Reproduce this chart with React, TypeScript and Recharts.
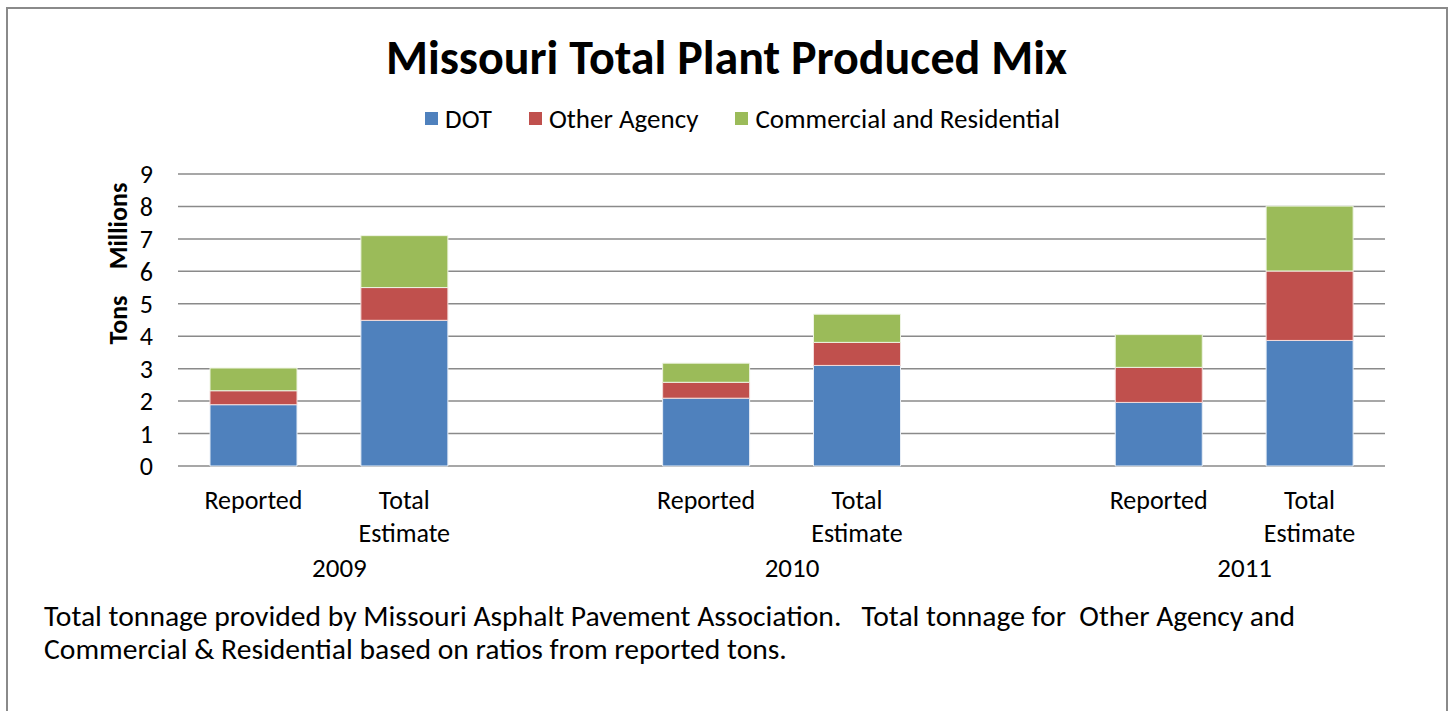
import { BarChart, Bar, XAxis, YAxis, CartesianGrid } from 'recharts';

const FONT = 'Carlito, Calibri, Lato, sans-serif';

// slots: two bars per year, empty slot between groups
const categories = ['Reported', 'Total Estimate', '', 'Reported', 'Total Estimate', '', 'Reported', 'Total Estimate'];
const years = ['2009', '', '', '2010', '', '', '2011', ''];
const dot = [1.89, 4.49, null, 2.09, 3.1, null, 1.96, 3.87];
const otherAgency = [0.43, 1.01, null, 0.49, 0.71, null, 1.08, 2.14];
const commercial = [0.7, 1.6, null, 0.59, 0.87, null, 1.01, 2.0];
const yTicks = [0, 1, 2, 3, 4, 5, 6, 7, 8, 9];

const series = [
  { key: 'dot', name: 'DOT', color: '#4F81BD', edge: '#e8eef6' },
  { key: 'other', name: 'Other Agency', color: '#C0504D', edge: '#f3dcdb' },
  { key: 'comm', name: 'Commercial and Residential', color: '#9BBB59', edge: '#eef4e3' },
];

const data = categories.map((c, i) => ({
  key: `s${i}`,
  label: c,
  year: years[i],
  dot: dot[i],
  other: otherAgency[i],
  comm: commercial[i],
}));

function XTick({ x, y, index }: any) {
  const d = data[index];
  if (!d) return null;
  const lines = d.label === 'Total Estimate' ? ['Total', 'Estimate'] : d.label ? [d.label] : [];
  return (
    <g>
      {lines.map((t, i) => (
        <text key={i} x={x} y={y + 35 + i * 33} textAnchor="middle" fontSize={26} fill="#000" fontFamily={FONT}>
          {t}
        </text>
      ))}
      {d.year && (
        <text x={x + 86} y={y + 103} textAnchor="middle" fontSize={27} fill="#000" fontFamily={FONT}>
          {d.year}
        </text>
      )}
    </g>
  );
}

export default function App() {
  return (
    <div style={{ position: 'absolute', left: 0, top: 0, width: 1453, height: 711, background: '#fff', overflow: 'hidden', fontFamily: FONT }}>
      <div style={{ position: 'absolute', left: 6, top: 7, width: 1442, height: 720, border: '2px solid #8a8a8a', boxSizing: 'border-box' }} />
      <div style={{ position: 'absolute', left: 0, width: 1453, top: 28, textAlign: 'center', fontSize: 48, fontWeight: 'bold', color: '#000' }}>
        Missouri Total Plant Produced Mix
      </div>
      <div style={{ position: 'absolute', left: 16, width: 1453, top: 102, display: 'flex', justifyContent: 'center', alignItems: 'center', fontSize: 27, color: '#000' }}>
        {series.map((s, i) => (
          <div key={s.key} style={{ display: 'flex', alignItems: 'center', marginRight: i < series.length - 1 ? 37 : 0 }}>
            <span style={{ display: 'inline-block', width: 13, height: 13, background: s.color, marginRight: 7 }} />
            <span>{s.name}</span>
          </div>
        ))}
      </div>
      <div style={{ position: 'absolute', left: 118, top: 226, transform: 'translate(-50%,-50%) rotate(-90deg)', fontSize: 26, fontWeight: 'bold' }}>
        Millions
      </div>
      <div style={{ position: 'absolute', left: 118, top: 320, transform: 'translate(-50%,-50%) rotate(-90deg)', fontSize: 26, fontWeight: 'bold' }}>
        Tons
      </div>
      <div style={{ position: 'absolute', left: 44, top: 600, fontSize: 29.6, lineHeight: '33px', color: '#000', whiteSpace: 'pre' }}>
        {'Total tonnage provided by Missouri Asphalt Pavement Association.   Total tonnage for  Other Agency and\nCommercial & Residential based on ratios from reported tons.'}
      </div>
      <div style={{ position: 'absolute', left: 0, top: 0 }}>
        <BarChart width={1453} height={711} data={data} margin={{ top: 174, right: 68, left: 118, bottom: 125 }} barSize={87}>
          <CartesianGrid vertical={false} stroke="#8a8a8a" strokeWidth={1.5} />
          <XAxis dataKey="key" axisLine={false} tickLine={false} height={120} interval={0} tick={<XTick />} />
          <YAxis
            width={60}
            domain={[0, 9]}
            ticks={yTicks}
            interval={0}
            axisLine={false}
            tickLine={false}
            tickSize={0}
            tickMargin={25}
            tick={{ fontSize: 26, fill: '#000', fontFamily: FONT }}
          />
          {series.map((s) => (
            <Bar key={s.key} dataKey={s.key} name={s.name} stackId="a" fill={s.color} stroke={s.edge} strokeWidth={1} isAnimationActive={false} />
          ))}
        </BarChart>
      </div>
    </div>
  );
}
